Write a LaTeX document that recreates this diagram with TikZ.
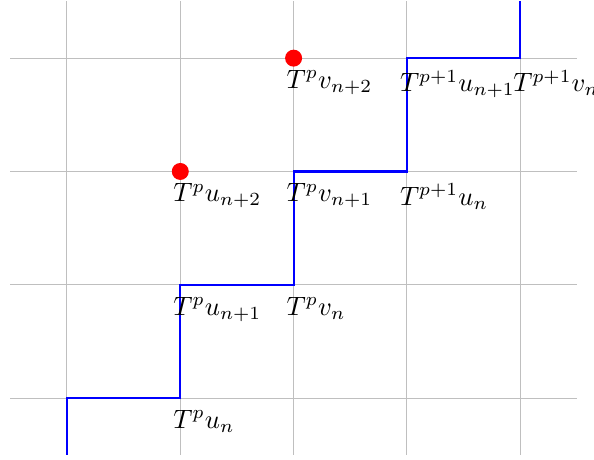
\documentclass[tikz,border=0pt]{standalone}
\begin{document}
\begin{tikzpicture}[x=1.5cm,y=1.5cm,
  gridline/.style={gray!50,line width=0.4pt},
  stair/.style={blue,thick},
  reddot/.style={circle,fill=red,inner sep=0pt,minimum size=6.4pt},
  lab/.style={anchor=north west,inner sep=0pt,xshift=-2.8pt,yshift=-4.4pt}]
\useasboundingbox (-0.591,-0.538) rectangle (4.651,3.513);
\foreach \i in {0,...,4} \draw[gridline] (\i,-0.5) -- (\i,3.5);
\foreach \j in {0,...,3} \draw[gridline] (-0.5,\j) -- (4.5,\j);
\coordinate (s0) at (0,-0.5);
\coordinate (a00) at (0,0);
\coordinate (a10) at (1,0);
\coordinate (a11) at (1,1);
\coordinate (a21) at (2,1);
\coordinate (a22) at (2,2);
\coordinate (a32) at (3,2);
\coordinate (a33) at (3,3);
\coordinate (a43) at (4,3);
\coordinate (s1) at (4,3.5);
\draw[stair] (s0) -- (a00) -- (a10) -- (a11) -- (a21) -- (a22) -- (a32) -- (a33) -- (a43) -- (s1);
\node[reddot] (d1) at (1,2) {};
\node[reddot] (d2) at (2,3) {};
\node[lab] (l1) at (a10) {$T^pu_n$};
\node[lab] (l2) at (a11) {$T^pu_{n+1}$};
\node[lab] (l3) at (a21) {$T^pv_n$};
\node[lab] (l4) at (1,2) {$T^pu_{n+2}$};
\node[lab] (l5) at (a22) {$T^pv_{n+1}$};
\node[lab] (l6) at (a32) {$T^{p+1}u_n$};
\node[lab] (l7) at (2,3) {$T^pv_{n+2}$};
\node[lab] (l8) at (a33) {$T^{p+1}u_{n+1}$};
\node[lab] (l9) at (a43) {$T^{p+1}v_n$};
\end{tikzpicture}
\end{document}
